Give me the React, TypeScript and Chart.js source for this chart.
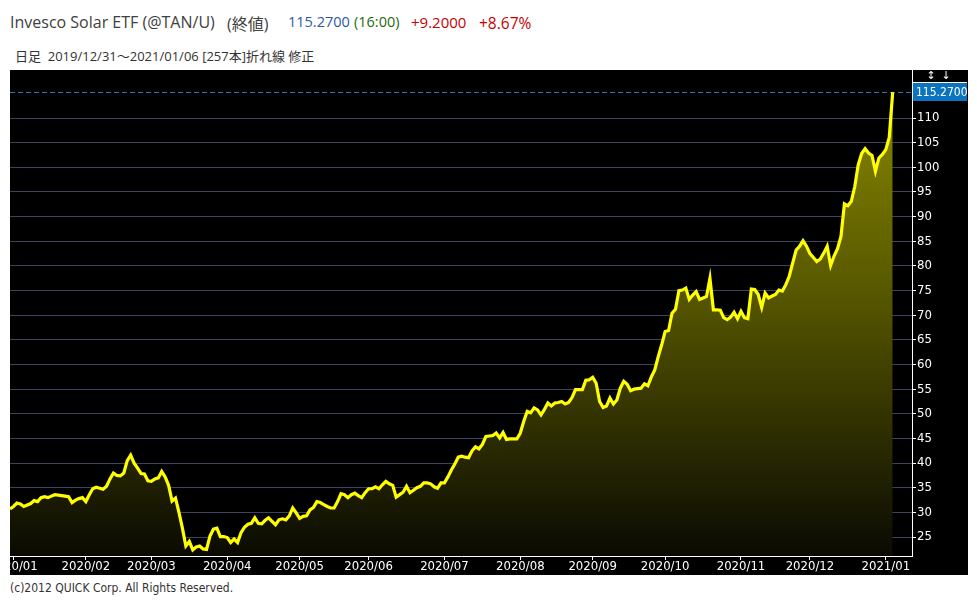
import React, { useEffect, useRef } from "react";
import { Chart, registerables } from "chart.js";

Chart.register(...registerables);

// Daily closing prices, 2019/12/31 .. 2021/01/06 (257 bars)
const prices: number[] = [
  30.7, 31.2, 31.9, 31.7, 31.2, 31.5, 31.8, 32.4, 32.2, 33.0,
  33.2, 33.0, 33.3, 33.6, 33.5, 33.4, 33.3, 33.2, 32.0, 32.5,
  32.8, 33.0, 32.2, 33.6, 34.8, 35.1, 34.9, 34.7, 35.3, 36.8,
  38.0, 37.5, 37.4, 38.0, 40.5, 41.6, 40.0, 39.0, 37.9, 37.8,
  36.4, 36.3, 36.8, 37.0, 38.3, 37.2, 35.5, 32.3, 32.9, 30.0,
  26.8, 23.2, 24.1, 22.4, 23.0, 23.2, 22.6, 22.5, 25.2, 26.6,
  26.8, 25.1, 25.1, 24.9, 23.9, 24.6, 23.9, 25.9, 27.0, 27.6,
  27.8, 28.9, 27.8, 27.7, 28.4, 28.9, 28.2, 27.5, 28.5, 28.7,
  28.5, 29.3, 30.9, 29.9, 28.8, 29.2, 29.3, 30.5, 31.0, 32.2,
  32.0, 31.6, 31.2, 30.9, 30.9, 32.2, 33.8, 33.6, 33.0, 33.6,
  33.9, 33.4, 33.0, 34.0, 34.8, 34.8, 35.2, 34.8, 35.6, 36.3,
  35.8, 35.5, 33.1, 33.6, 34.1, 35.3, 34.0, 34.5, 35.0, 35.3,
  36.0, 36.0, 35.8, 35.2, 34.9, 36.0, 36.0, 37.2, 38.6, 39.8,
  41.2, 41.4, 41.2, 41.1, 42.5, 43.3, 42.9, 43.8, 45.4, 45.5,
  45.6, 46.1, 45.1, 46.2, 44.8, 44.9, 44.9, 44.9, 46.1, 48.5,
  50.5, 50.2, 51.2, 50.8, 49.8, 50.9, 52.2, 51.6, 52.2, 52.3,
  52.5, 52.0, 52.3, 53.3, 54.9, 54.9, 54.9, 56.8, 56.9, 57.4,
  56.2, 52.5, 51.3, 51.6, 53.2, 52.0, 52.8, 55.2, 56.6, 56.0,
  54.7, 55.0, 55.1, 55.2, 56.1, 55.7, 57.5, 58.9, 61.6, 64.0,
  66.7, 66.9, 70.4, 71.2, 75.0, 75.1, 75.5, 73.2, 74.1, 74.8,
  73.2, 73.5, 73.8, 77.5, 71.1, 71.1, 71.0, 69.5, 69.1, 69.6,
  70.6, 69.3, 70.8, 69.5, 69.3, 75.3, 75.2, 74.2, 71.6, 74.5,
  73.5, 73.9, 74.2, 75.1, 74.9, 76.2, 77.9, 80.6, 83.2, 84.0,
  85.1, 84.0, 82.5, 81.7, 80.9, 81.4, 82.6, 84.0, 80.1, 82.0,
  83.5, 86.0, 92.6, 92.2, 93.1, 96.1, 100.5, 102.8, 103.8, 102.9,
  102.4, 99.2, 101.9, 102.6, 103.6, 106.07, 115.27,
];

// First trading day of each month (bar index) and its label
const monthStartIndex: number[] = [1, 22, 41, 63, 84, 104, 126, 148, 169, 190, 212, 232, 254];
const monthLabels: string[] = [
  "2020/01", "2020/02", "2020/03", "2020/04", "2020/05", "2020/06", "2020/07",
  "2020/08", "2020/09", "2020/10", "2020/11", "2020/12", "2021/01",
];

const yTickValues: number[] = [25, 30, 35, 40, 45, 50, 55, 60, 65, 70, 75, 80, 85, 90, 95, 100, 105, 110];
const lastPriceLabel = "115.2700";

const X_MAX = 261.6;
const Y_MIN = 21.16;
const Y_MAX = 119.74;

const AXIS_FONT = "'Liberation Sans Narrow', 'DejaVu Sans Condensed', 'Liberation Sans', sans-serif";

const overlayPlugin = {
  id: "overlay",
  beforeDatasetsDraw(chart: any) {
    const { ctx, chartArea, scales } = chart;
    const last = prices[prices.length - 1];
    const py = Math.round(scales.y.getPixelForValue(last)) + 0.5;
    ctx.save();
    ctx.strokeStyle = "#2a78b4";
    ctx.lineWidth = 1;
    ctx.setLineDash([5, 3]);
    ctx.beginPath();
    ctx.moveTo(chartArea.left, py);
    ctx.lineTo(chartArea.right, py);
    ctx.stroke();
    ctx.restore();
  },
  afterDraw(chart: any) {
    const { ctx, chartArea, scales } = chart;
    const last = prices[prices.length - 1];
    const py = scales.y.getPixelForValue(last);
    const x0 = chartArea.right + 1;
    const w = 54;
    ctx.save();
    // toolbar line
    ctx.strokeStyle = "#ffffff";
    ctx.lineWidth = 1;
    ctx.beginPath();
    ctx.moveTo(x0, 12.5);
    ctx.lineTo(x0 + w, 12.5);
    ctx.stroke();
    ctx.fillStyle = "#ffffff";
    ctx.font = "11px 'DejaVu Sans', sans-serif";
    ctx.textBaseline = "middle";
    ctx.textAlign = "center";
    ctx.fillText("↕", x0 + 18, 6);
    ctx.fillText("↓", x0 + 33, 6);
    // last price box
    ctx.fillStyle = "#0b74c1";
    ctx.fillRect(x0, Math.round(py) - 9, w, 18);
    ctx.fillStyle = "#ffffff";
    ctx.font = "12px " + AXIS_FONT;
    ctx.textAlign = "left";
    ctx.fillText(lastPriceLabel, x0 + 3, Math.round(py) + 0.5);
    ctx.restore();
  },
};

function PriceChart() {
  const ref = useRef<HTMLCanvasElement | null>(null);
  useEffect(() => {
    const canvas = ref.current;
    if (!canvas) return;
    const chart = new Chart(canvas, {
      type: "line",
      data: {
        datasets: [
          {
            data: prices.map((v, i) => ({ x: i, y: v })),
            borderColor: "#ffff00",
            borderWidth: 3.2,
            pointRadius: 0,
            tension: 0,
            fill: "start",
            backgroundColor: (c: any) => {
              const area = c.chart.chartArea;
              if (!area) return "rgba(110,110,0,1)";
              const g = c.chart.ctx.createLinearGradient(0, area.top, 0, area.bottom);
              g.addColorStop(0, "rgb(140,140,0)");
              g.addColorStop(0.45, "rgb(88,88,0)");
              g.addColorStop(1, "rgb(10,10,3)");
              return g;
            },
          } as any,
        ],
      },
      options: {
        animation: false,
        responsive: false,
        maintainAspectRatio: false,
        layout: { autoPadding: false, padding: 0 } as any,
        plugins: { legend: { display: false }, tooltip: { enabled: false } },
        scales: {
          x: {
            type: "linear",
            min: 0,
            max: X_MAX,
            afterBuildTicks: (s: any) => {
              s.ticks = monthStartIndex.map((v) => ({ value: v }));
            },
            afterFit: (s: any) => {
              s.height = 19;
              s.paddingLeft = 0;
              s.paddingRight = 0;
            },
            ticks: {
              autoSkip: false,
              maxRotation: 0,
              color: "#ffffff",
              padding: -1,
              font: { family: AXIS_FONT, size: 13 },
              callback: (v: any) => monthLabels[monthStartIndex.indexOf(Number(v))],
            },
            grid: { drawOnChartArea: false, drawTicks: true, tickLength: 4, tickColor: "#ffffff" },
            border: { color: "#ffffff", width: 1 },
          },
          y: {
            position: "right",
            min: Y_MIN,
            max: Y_MAX,
            z: 1,
            afterBuildTicks: (s: any) => {
              s.ticks = yTickValues.map((v) => ({ value: v }));
            },
            afterFit: (s: any) => {
              s.width = 56;
              s.paddingTop = 0;
              s.paddingBottom = 0;
            },
            ticks: {
              color: "#ffffff",
              padding: 1,
              font: { family: AXIS_FONT, size: 13 },
              callback: (v: any) => String(v),
            },
            grid: { color: "rgba(100,110,160,0.6)", tickColor: "#ffffff", tickLength: 4, lineWidth: 1 },
            border: { color: "#ffffff", width: 1 },
          },
        },
      } as any,
      plugins: [overlayPlugin],
    });
    return () => chart.destroy();
  }, []);
  return (
    <canvas
      ref={ref}
      width={958}
      height={505}
      style={{ position: "absolute", left: 2, top: 62, width: 958, height: 505, background: "#000" }}
    />
  );
}

const hdr = "'Open Sans', 'Noto Sans CJK JP', sans-serif";

export default function App() {
  const base: React.CSSProperties = { position: "absolute", whiteSpace: "nowrap", fontFamily: hdr };
  return (
    <div style={{ position: "relative", width: 969, height: 593 }}>
      <span style={{ ...base, left: 2, top: 3, fontSize: 16, color: "#404040" }}>Invesco Solar ETF (@TAN/U)</span>
      <span style={{ ...base, left: 219, top: 3, fontSize: 16, color: "#404040" }}>(終値)</span>
      <span style={{ ...base, left: 280, top: 4, fontSize: 14.5, color: "#2b5aa6" }}>115.2700</span>
      <span style={{ ...base, left: 346, top: 4, fontSize: 14.5, color: "#1e6b12" }}>(16:00)</span>
      <span style={{ ...base, left: 403, top: 4, fontSize: 15, color: "#c80000" }}>+9.2000</span>
      <span style={{ ...base, left: 471, top: 4, fontSize: 15.5, color: "#c80000" }}>+8.67%</span>
      <span style={{ ...base, left: 7, top: 38, fontSize: 13, color: "#333333" }}>日足&nbsp;&nbsp;2019/12/31～2021/01/06 [257本]折れ線 修正</span>
      <PriceChart />
      <span style={{ ...base, left: 2, top: 573, fontSize: 12, color: "#333333", fontFamily: AXIS_FONT }}>
        (c)2012 QUICK Corp. All Rights Reserved.
      </span>
    </div>
  );
}
